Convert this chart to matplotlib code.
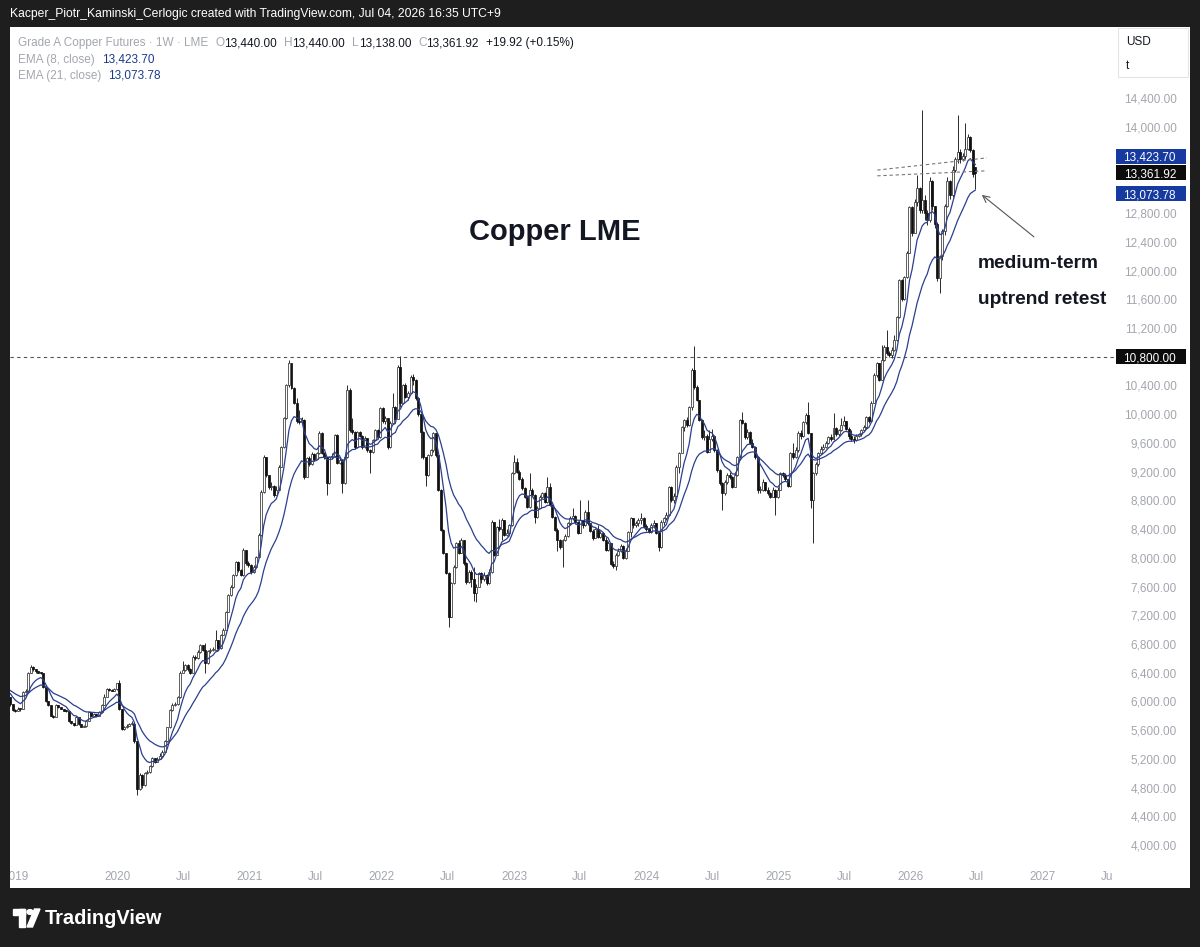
import numpy as np
import matplotlib
matplotlib.use("Agg")
import matplotlib.pyplot as plt
import matplotlib.dates as mdates
from matplotlib.patches import Rectangle, Polygon, Circle
from matplotlib.transforms import Bbox, TransformedBbox

plt.rcParams['font.family'] = ['Liberation Sans', 'DejaVu Sans']

# ---- weekly bars, Grade A copper (LME), USD/t ----
first_week = '2019-03-11'
first_open = 6060
last_open = 13440.00

closes = [
    # 2019
    5960, 5880, 5870, 5900, 5890, 6130, 6150, 6400, 6480, 6450, 6420, 6400, 6390,
    6200, 6000, 5950, 5800, 5780, 5950, 5920, 5900, 5870, 5860, 5720, 5700, 5670,
    5780, 5680, 5650, 5660, 5730, 5850, 5800, 5830, 5800, 5850, 5950, 6060, 6170,
    6160, 6150, 6170, 6250,
    # 2020
    5900, 5620, 5640, 5660, 5680, 5690, 5450, 4780, 4980, 4830, 5000, 5020, 5100,
    5210, 5160, 5200, 5240, 5300, 5450, 5640, 5880, 5950, 5960, 6060, 6400, 6440,
    6500, 6450, 6400, 6620, 6600, 6690, 6780, 6720, 6530, 6700, 6720, 6720, 6850,
    6740, 6930, 7000, 7250, 7480, 7600, 7760, 7940, 7830, 7760, 8110, 7930, 7900,
    # 2021
    7800, 7870, 8010, 8320, 8920, 9400, 9150, 8990, 9000, 8880, 8950, 9270, 9540,
    9950, 10400, 10720, 10370, 10160, 9900, 9890, 9920, 9130, 9390, 9300, 9450, 9380,
    9460, 9740, 9460, 9400, 9040, 9400, 9420, 9710, 9320, 9360, 9040, 9400, 10340,
    9780, 9750, 9540, 9750, 9700, 9540, 9670, 9500, 9470, 9640, 9780, 9680, 10080,
    # 2022
    9900, 9950, 9540, 9880, 10100, 9940, 10660, 10150, 10400, 10240, 10300, 10520, 10480,
    10230, 10000, 9750, 9400, 9150, 9430, 9500, 9740, 9430, 8950, 8390, 8070, 7790,
    7180, 7650, 7870, 8200, 8070, 8250, 7930, 7660, 7800, 7700, 7510, 7600, 7790,
    7700, 7760, 7650, 7800, 8500, 8040, 8430, 8400, 8530, 8320, 8350, 8450, 9180,
    # 2023
    9330, 9200, 9100, 8970, 8850, 8710, 8950, 8880, 8570, 8700, 8850, 8900, 8780,
    8980, 8740, 8570, 8390, 8250, 8150, 8250, 8300, 8480, 8550, 8580, 8500, 8350,
    8520, 8450, 8640, 8480, 8380, 8280, 8400, 8290, 8350, 8250, 8110, 8200, 7920,
    7880, 8040, 8100, 8160, 8000, 8100, 8360, 8550, 8450, 8480, 8530, 8560, 8440,
    # 2024
    8400, 8360, 8460, 8480, 8350, 8150, 8500, 8550, 8600, 8990, 8800, 8860, 9270,
    9460, 9820, 9920, 9850, 10100, 10620, 10380, 10200, 9920, 9680, 9700, 9480, 9650,
    9700, 9500, 9220, 9040, 8900, 9050, 9150, 9130, 8990, 9150, 9400, 9920, 9880,
    9680, 9750, 9600, 9550, 9400, 8950, 8950, 9050, 8950, 8900, 8850, 8950, 8850, 8950,
    # 2025
    9180, 9150, 9100, 9000, 9460, 9400, 9500, 9740, 9700, 9890, 9990, 9740, 8800,
    9180, 9300, 9460, 9520, 9550, 9600, 9680, 9650, 9810, 9720, 9780, 9850, 9900,
    9800, 9700, 9650, 9640, 9700, 9720, 9780, 9820, 9960, 9900, 10160, 10550, 10710,
    10480, 10760, 10940, 10850, 10830, 10900, 11030, 11350, 11870, 11600, 11910, 12250, 12890,
    # 2026
    12530, 12950, 13150, 12850, 12980, 12800, 12700, 13250, 12900, 12650, 11900, 12200, 12550,
    12900, 13250, 13050, 13400, 13550, 13650, 13550, 13600, 13700, 13860, 13680, 13342, 13361.92,
]

highs = [
    # 2019
    6060, 5960, 5900, 5920, 5910, 6140, 6170, 6410, 6500, 6490, 6450, 6420, 6410,
    6390, 6200, 6010, 5950, 5810, 5960, 5950, 5920, 5900, 5880, 5860, 5730, 5700,
    5790, 5780, 5690, 5670, 5740, 5860, 5850, 5840, 5830, 5860, 5960, 6100, 6180,
    6180, 6170, 6180, 6260,
    # 2020
    6300, 5900, 5660, 5680, 5700, 5720, 5690, 5450, 5000, 4990, 5020, 5040, 5110,
    5230, 5210, 5220, 5280, 5320, 5460, 5650, 5890, 5980, 5990, 6080, 6420, 6560,
    6520, 6520, 6460, 6640, 6640, 6720, 6800, 6790, 6810, 6720, 6740, 6760, 7000,
    6860, 6940, 7020, 7260, 7500, 7620, 7780, 7960, 7950, 7840, 8130, 8110, 7950,
    # 2021
    7920, 7900, 8030, 8340, 8940, 9430, 9400, 9160, 9060, 9010, 9000, 9290, 9560,
    9960, 10420, 10750, 10720, 10380, 10230, 10060, 9960, 9930, 9400, 9420, 9470, 9460,
    9480, 9760, 9750, 9480, 9410, 9420, 9460, 9730, 9720, 9400, 9380, 9420, 10400,
    10370, 9950, 9760, 9760, 9760, 9710, 9690, 9670, 9510, 9660, 9800, 9790, 10100,
    # 2022
    10100, 9980, 9950, 9900, 10300, 10110, 10680, 10810, 10420, 10440, 10320, 10540, 10560,
    10490, 10240, 10000, 9760, 9400, 9440, 9520, 9750, 9740, 9430, 8960, 8400, 8070,
    7800, 7660, 7900, 8220, 8250, 8270, 8250, 7940, 7830, 7830, 7870, 7640, 7800,
    7800, 7800, 7770, 7850, 8520, 8500, 8440, 8540, 8550, 8530, 8400, 8470, 9200,
    # 2023
    9430, 9390, 9220, 9120, 8990, 8880, 9180, 8970, 8890, 8720, 8870, 8920, 8920,
    9130, 9040, 8750, 8580, 8420, 8260, 8260, 8330, 8500, 8580, 8690, 8590, 8510,
    8800, 8530, 8660, 8800, 8490, 8400, 8420, 8460, 8380, 8360, 8290, 8230, 8200,
    7950, 8060, 8130, 8190, 8180, 8130, 8380, 8570, 8560, 8510, 8560, 8620, 8570,
    # 2024
    8470, 8420, 8480, 8520, 8490, 8360, 8520, 8570, 8640, 9000, 9000, 8900, 9290,
    9480, 9840, 9940, 9960, 10120, 10650, 10950, 10400, 10200, 9930, 9780, 9720, 9780,
    9800, 9710, 9510, 9230, 9060, 9080, 9180, 9200, 9140, 9180, 9420, 9940, 10030,
    9890, 9790, 9760, 9650, 9560, 9410, 9000, 9100, 9060, 8980, 8920, 8980, 8960, 8980,
    # 2025
    9200, 9200, 9180, 9100, 9480, 9600, 9540, 9760, 9780, 9910, 10010, 10170, 9740,
    9200, 9330, 9480, 9560, 9580, 9630, 9700, 9720, 10010, 9820, 9800, 9950, 9980,
    9910, 9820, 9780, 9700, 9720, 9740, 9800, 9850, 9980, 9970, 10180, 10570, 10730,
    10720, 10960, 10960, 11170, 10880, 10940, 11100, 11370, 11890, 11880, 11930, 12270, 12900,
    # 2026
    12900, 13000, 13330, 13160, 14240, 13050, 12850, 13300, 13260, 12900, 12680, 12220, 12580,
    12930, 13300, 13260, 13450, 13580, 14170, 13700, 13640, 14050, 13900, 13870, 13690, 13440,
]

lows = [
    # 2019
    5940, 5860, 5850, 5860, 5870, 5890, 6120, 6150, 6390, 6430, 6400, 6390, 6380,
    6190, 5990, 5940, 5790, 5770, 5780, 5910, 5890, 5860, 5850, 5710, 5690, 5660,
    5670, 5670, 5640, 5640, 5650, 5720, 5790, 5800, 5790, 5790, 5840, 5950, 6060,
    6150, 6140, 6150, 6160,
    # 2020
    5880, 5600, 5600, 5630, 5660, 5670, 5420, 4700, 4760, 4800, 4820, 4990, 5000,
    5080, 5140, 5150, 5220, 5230, 5290, 5440, 5630, 5870, 5930, 5950, 6050, 6420,
    6430, 6430, 6380, 6390, 6580, 6590, 6680, 6700, 6400, 6520, 6680, 6700, 6710,
    6720, 6730, 6920, 6990, 7240, 7470, 7580, 7750, 7800, 7740, 7750, 7900, 7870,
    # 2021
    7780, 7790, 7860, 8000, 8310, 8900, 9130, 8960, 8950, 8850, 8870, 8940, 9260,
    9530, 9940, 10380, 10350, 10140, 9880, 9860, 9860, 9100, 9120, 9280, 9290, 9350,
    9370, 9450, 9440, 9380, 8880, 9030, 9380, 9400, 9300, 9300, 8900, 9030, 9390,
    9750, 9720, 9520, 9530, 9680, 9520, 9530, 9480, 9180, 9460, 9630, 9660, 9670,
    # 2022
    9880, 9870, 9520, 9530, 9870, 9920, 9930, 10100, 10140, 10220, 10200, 10290, 10400,
    10200, 9980, 9390, 9380, 9000, 9140, 9420, 9480, 9410, 8930, 8370, 8050, 7770,
    7040, 7170, 7640, 7860, 8050, 8060, 7900, 7640, 7650, 7600, 7400, 7380, 7590,
    7650, 7680, 7620, 7640, 7790, 8020, 8040, 8380, 8250, 8300, 8300, 8330, 8440,
    # 2023
    9170, 9180, 9080, 8950, 8830, 8690, 8700, 8850, 8480, 8560, 8690, 8830, 8760,
    8770, 8720, 8550, 8370, 8100, 8120, 7870, 8230, 8290, 8460, 8520, 8470, 8330,
    8340, 8420, 8440, 8460, 8360, 8250, 8270, 8270, 8270, 8230, 8090, 8090, 7900,
    7860, 7830, 8020, 8080, 7980, 7990, 8090, 8290, 8420, 8430, 8440, 8470, 8420,
    # 2024
    8380, 8340, 8350, 8420, 8330, 8100, 8140, 8450, 8530, 8580, 8780, 8760, 8840,
    9180, 9480, 9770, 9820, 9840, 10060, 10350, 10180, 9900, 9660, 9640, 9460, 9470,
    9620, 9480, 9200, 9020, 8670, 8880, 9030, 9100, 8970, 8980, 9140, 9390, 9860,
    9660, 9660, 9580, 9530, 9380, 8900, 8900, 8930, 8930, 8880, 8830, 8840, 8600, 8830,
    # 2025
    8940, 9120, 9070, 8980, 8990, 9380, 9390, 9480, 9650, 9680, 9870, 9720, 8700,
    8200, 9150, 9280, 9440, 9500, 9530, 9590, 9620, 9640, 9700, 9700, 9760, 9830,
    9780, 9650, 9620, 9600, 9630, 9680, 9700, 9760, 9800, 9880, 9890, 10150, 10520,
    10460, 10470, 10740, 10820, 10800, 10780, 10880, 11020, 11340, 11570, 11590, 11900, 12240,
    # 2026
    12480, 12520, 12900, 12800, 12800, 12700, 12640, 12680, 12850, 12600, 11850, 11690, 12150,
    12500, 12880, 13000, 13020, 13380, 13500, 13500, 13520, 13560, 13680, 13650, 13300, 13138,
]

ema8_seed, ema21_seed = 6150, 6170
ema8_last, ema21_last = 13423.70, 13073.78
resistance = 10800
trend_lines = [[('2025-10-01', 13400), ('2026-07-31', 13570)],
               [('2025-10-01', 13320), ('2026-07-31', 13390)]]
arrow_tail = ('2026-12-08', 12470)
arrow_tip = ('2026-07-17', 13055)
price_ticks = np.arange(4000, 14401, 400)
hidden_ticks = [13200, 13600]   # covered by the price tags
time_labels = [('2019-03-25', '2019')]
for yr in range(2020, 2028):
    time_labels += [(f'{yr}-01-01', str(yr)), (f'{yr}-07-01', 'Jul')]

W, H = 1200, 947
GRAY = '#a3a6ae'
INK = '#131722'
NAVY = '#1c3a8c'


def fx(px):
    return px / W


def fy(py):
    return 1 - py / H


def ema(vals, n, seed):
    a = 2 / (n + 1)
    e = seed
    out = []
    for v in vals:
        e = a * v + (1 - a) * e
        out.append(e)
    return np.array(out)


c = np.array(closes, dtype=float)
h = np.array(highs, dtype=float)
l = np.array(lows, dtype=float)
o = np.concatenate([[first_open], c[:-1]])
o[-1] = last_open
dates = np.datetime64(first_week) + np.arange(len(c)) * np.timedelta64(7, 'D')
x = mdates.date2num(dates)

fig = plt.figure(figsize=(W / 100, H / 100), dpi=100, facecolor='#1e1e1e')
fig.patches.append(Rectangle((fx(10), fy(888)), fx(1180), (888 - 27) / H,
                             transform=fig.transFigure, facecolor='white',
                             edgecolor='none', zorder=-5))
ax = fig.add_axes([fx(10), fy(864), fx(1105), (864 - 27) / H])
ax.set_zorder(2)
ax.set_facecolor('none')
ax.set_xlim(mdates.datestr2num('2019-03-10'), mdates.datestr2num('2027-07-20'))
ax.set_ylim(3735, 15393)
for s in ax.spines.values():
    s.set_visible(False)

# candles
up = c >= o
lo_body = np.minimum(o, c)
body = np.maximum(np.abs(c - o), 14)
ax.vlines(x, l, h, color='#2a2a2a', lw=0.7, zorder=2)
ax.bar(x[up], body[up], bottom=lo_body[up], width=5.5, facecolor='white',
       edgecolor='#333333', lw=0.55, zorder=3)
ax.bar(x[~up], body[~up], bottom=lo_body[~up], width=5.5, facecolor='#111111',
       edgecolor='#111111', lw=0.55, zorder=3)

# EMAs
ax.plot(x, ema(c, 8, ema8_seed), color='#2b3f8f', lw=0.9, zorder=4)
ax.plot(x, ema(c, 21, ema21_seed), color='#2b3f8f', lw=0.9, zorder=4)

# drawings
ax.axhline(resistance, color='#555555', lw=0.8, ls=(0, (3, 3)), zorder=1)
for (d0, p0), (d1, p1) in trend_lines:
    ax.plot(mdates.datestr2num([d0, d1]), [p0, p1], color='#777777', lw=0.8,
            ls=(0, (3, 2.5)), zorder=4)
ax.annotate('', xy=(mdates.datestr2num(arrow_tip[0]), arrow_tip[1]),
            xytext=(mdates.datestr2num(arrow_tail[0]), arrow_tail[1]),
            arrowprops=dict(arrowstyle='->', color='#555555', lw=0.8,
                            mutation_scale=12, shrinkA=0, shrinkB=0),
            annotation_clip=False)

# price axis
ax.yaxis.tick_right()
ax.set_yticks(price_ticks)
ax.set_yticklabels(['' if v in hidden_ticks else f'{v:,.2f}' for v in price_ticks])
ax.tick_params(axis='y', length=0, labelsize=8.5, labelcolor=GRAY, pad=44.6)
for t in ax.get_yticklabels():
    t.set_horizontalalignment('right')
ax.set_xticks([])

# time axis labels (clipped like the chart pane)
clip = TransformedBbox(Bbox.from_extents(fx(10), 0, fx(1112), 1), fig.transFigure)
for d, lab in time_labels:
    t = ax.text(mdates.datestr2num(d), -13 / 837, lab, transform=ax.get_xaxis_transform(),
                ha='center', va='center', fontsize=8.5, color=GRAY)
    t.set_clip_box(clip)
    t.set_clip_on(True)

# price tags on the right
y0, y1 = ax.get_ylim()
per_px = (y1 - y0) / 837


def price_tag(value, label, face, shift_px=0):
    yc = value + shift_px * per_px
    tr = ax.get_yaxis_transform()
    ax.add_patch(Rectangle((1.0009, yc - 7.5 * per_px), 0.0634, 15 * per_px, transform=tr,
                           facecolor=face, edgecolor='none', clip_on=False, zorder=5))
    ax.text(1.0552, yc, label, transform=tr, ha='right', va='center_baseline',
            color='white', fontsize=8.5, clip_on=False, zorder=6)


price_tag(resistance, f'{resistance:,.2f}', '#0c0c0c')
price_tag(ema8_last, f'{ema8_last:,.2f}', '#163a9f', shift_px=12)
price_tag(ema21_last, f'{ema21_last:,.2f}', '#163a9f')
price_tag(c[-1], f'{c[-1]:,.2f}', '#0c0c0c')

# unit box
fig.patches.append(Rectangle((fx(1118), fy(77)), fx(70), 49 / H, transform=fig.transFigure,
                             facecolor='white', edgecolor='#e3e5ea', lw=0.8, zorder=1))
fig.text(fx(1126), fy(42), 'USD', fontsize=8.5, color=INK, va='center')
fig.text(fx(1126), fy(66), 't', fontsize=8.5, color=INK, va='center')

# top bar
fig.text(fx(10), fy(14), 'Kacper_Piotr_Kaminski_Cerlogic created with TradingView.com, '
         'Jul 04, 2026 16:35 UTC+9', fontsize=8.7, color='white', va='center')


# legend lines
def chain(prev, s, color, gap):
    return ax.annotate(s, xy=(1, 0), xycoords=prev, xytext=(gap, 0),
                       textcoords='offset points', ha='left', va='bottom',
                       fontsize=8.5, color=color, annotation_clip=False)


chg = c[-1] - c[-2]
t = fig.text(fx(18), fy(43), 'Grade A Copper Futures · 1W · LME', fontsize=8.5,
             color=GRAY, va='center')
t = chain(t, 'O', GRAY, 5)
t = chain(t, f'{o[-1]:,.2f}', INK, 0)
t = chain(t, 'H', GRAY, 5)
t = chain(t, f'{h[-1]:,.2f}', INK, 0)
t = chain(t, 'L', GRAY, 5)
t = chain(t, f'{l[-1]:,.2f}', INK, 0)
t = chain(t, 'C', GRAY, 5)
t = chain(t, f'{c[-1]:,.2f}', INK, 0)
chain(t, f'{chg:+.2f} ({chg / c[-2] * 100:+.2f}%)', INK, 5)
t = fig.text(fx(18), fy(59.5), 'EMA (8, close)', fontsize=8.5, color=GRAY, va='center')
chain(t, f'{ema8_last:,.2f}', NAVY, 5)
t = fig.text(fx(18), fy(76), 'EMA (21, close)', fontsize=8.5, color=GRAY, va='center')
chain(t, f'{ema21_last:,.2f}', NAVY, 5)

# annotations
fig.text(fx(555), fy(232), 'Copper LME', fontsize=21, fontweight='bold', color=INK,
         ha='center', va='center')
fig.text(fx(978), fy(263), 'medium-term', fontsize=13.8, fontweight='bold', color=INK,
         va='center')
fig.text(fx(978), fy(300), 'uptrend retest', fontsize=13.8, fontweight='bold', color=INK,
         va='center')

# TradingView logo
ft = fig.transFigure
fig.patches.append(Rectangle((fx(13), fy(915)), fx(12), 6 / H, transform=ft, color='white'))
fig.patches.append(Rectangle((fx(19), fy(927)), fx(6), 18 / H, transform=ft, color='white'))
fig.patches.append(Circle((fx(30), fy(912)), 3 / W, transform=ft, color='white'))
fig.patches.append(Polygon([(fx(27), fy(927)), (fx(32.5), fy(927)), (fx(40), fy(909)),
                            (fx(34.5), fy(909))], closed=True, transform=ft, color='white'))
fig.text(fx(45), fy(918), 'TradingView', fontsize=14.4, fontweight='bold', color='white',
         va='center')

fig.savefig('out.png', dpi=100, facecolor=fig.get_facecolor())
